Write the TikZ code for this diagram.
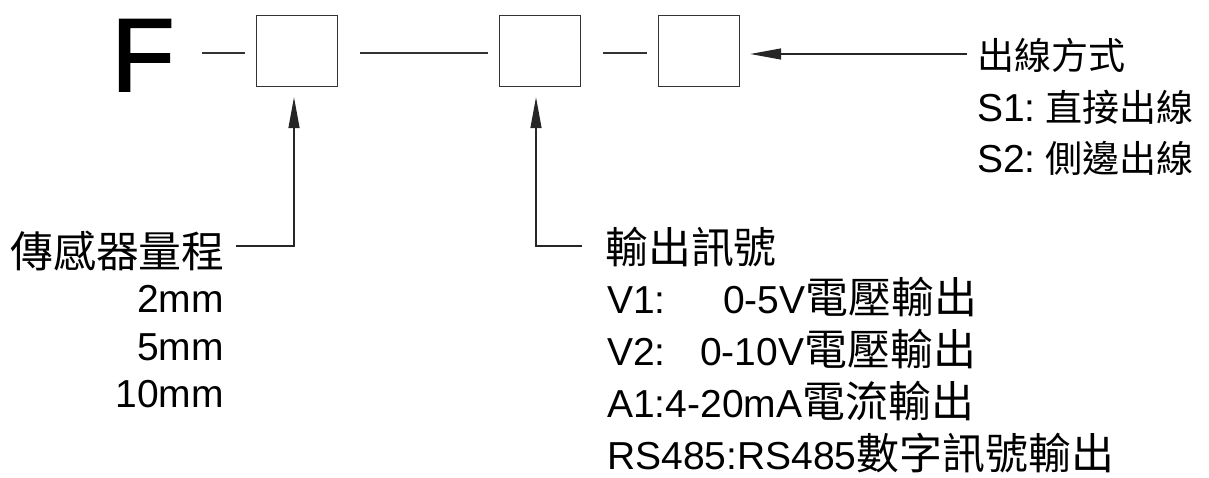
\documentclass[tikz,border=0pt]{standalone}
\usepackage{fontspec}
\setmainfont{Liberation Sans}
\newfontfamily\heavy{Liberation Sans}[FakeBold=1.6]
\newfontfamily\cjk{Noto Sans CJK TC}[Scale=1.1]
\newfontfamily\cjkside{Noto Sans CJK TC}[Scale=0.95]
\usetikzlibrary{arrows.meta}
\tikzset{
  slot/.style={draw=black!80, line width=1.4pt, minimum width=81pt, minimum height=71pt, inner sep=0pt},
  tie/.style={draw=black!80, line width=1.3pt},
  pointer/.style={draw=black!85, line width=1.3pt, shorten >=10pt, -{Triangle[length=31pt, width=11pt]}},
  caption/.style={inner sep=0pt, font=\fontsize{39}{47}\selectfont},
}
\begin{document}
\begin{tikzpicture}[x=1pt, y=-1pt]
  \useasboundingbox (0,0) rectangle (1209,478);
  \node[anchor=base west, inner sep=0pt, font=\fontsize{104}{112}\selectfont\heavy] (F) at (111,91) {F};
  \node[slot] (box1) at (297,51) {};
  \node[slot] (box2) at (540,51) {};
  \node[slot] (box3) at (699,51) {};
  \draw[tie] ([xshift=-54pt, yshift=-2pt]box1.west) -- ([xshift=-11pt, yshift=-2pt]box1.west);
  \draw[tie] ([xshift=22pt, yshift=-2pt]box1.east) -- ([xshift=-11pt, yshift=-2pt]box2.west);
  \draw[tie] ([xshift=22pt, yshift=-2pt]box2.east) -- ([xshift=-11pt, yshift=-2pt]box3.west);

  \node[caption, anchor=base west] (mode) at (977,70) {\cjkside 出線方式};
  \node[caption, anchor=base west] (s1) at (977,122) {S1:\hspace{10pt}{\cjkside 直接出線}};
  \node[caption, anchor=base west] (s2) at (977,173) {S2:\hspace{10pt}{\cjkside 側邊出線}};

  \node[caption, anchor=base west] (range) at (10,268) {\cjk 傳感器量程};
  \node[caption, anchor=base east] (r2) at (224,312) {2mm};
  \node[caption, anchor=base east] (r5) at (224,360) {5mm};
  \node[caption, anchor=base east] (r10) at (224,407) {10mm};

  \node[caption, anchor=base west] (signal) at (605,264) {\cjk 輸出訊號};
  \node[caption, anchor=base west] (v1) at (607,313) {V1:\hspace{57.5pt}0-5V{\cjk 電壓輸出}};
  \node[caption, anchor=base west] (v2) at (607,365) {V2:\hspace{34.5pt}0-10V{\cjk 電壓輸出}};
  \node[caption, anchor=base west] (a1) at (607,417) {A1:4-20mA{\cjk 電流輸出}};
  \node[caption, anchor=base west] (rs) at (607,469) {RS485:RS485{\cjk 數字訊號輸出}};

  \coordinate (rangeend) at (236,246);
  \coordinate (signalend) at (582,246);
  \coordinate (modeend) at (967,54);
  \draw[pointer] (rangeend) -| ([xshift=-3pt]box1.south);
  \draw[pointer] (signalend) -| ([xshift=-4pt]box2.south);
  \draw[pointer] (modeend) -- (modeend -| box3.east);
\end{tikzpicture}
\end{document}
